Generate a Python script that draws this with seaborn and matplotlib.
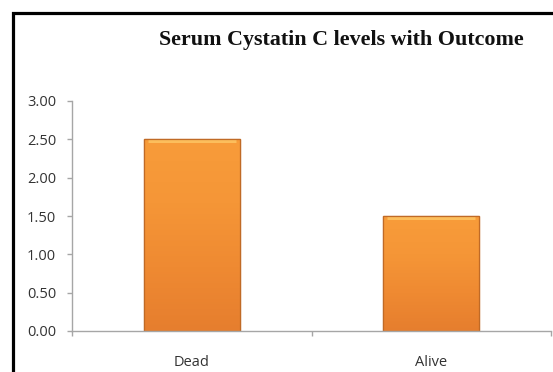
import matplotlib
matplotlib.use("Agg")
import matplotlib.pyplot as plt
import numpy as np
import pandas as pd
import seaborn as sns
from matplotlib.patches import Rectangle
from matplotlib.colors import LinearSegmentedColormap

# Mean serum cystatin C by outcome
outcomes = ["Dead", "Alive"]
cystatin_c = [2.50, 1.50]
y_ticks = [0.0, 0.5, 1.0, 1.5, 2.0, 2.5, 3.0]

df = pd.DataFrame({"Outcome": outcomes, "Cystatin C": cystatin_c})

sns.set_theme(style="white")
plt.rcParams["font.family"] = ["Open Sans", "DejaVu Sans"]

fig = plt.figure(figsize=(5.53, 3.72), dpi=100)
ax = fig.add_axes([72 / 553, 1 - 331 / 372, (551 - 72) / 553, (331 - 101) / 372])

sns.barplot(data=df, x="Outcome", y="Cystatin C", ax=ax, width=0.40,
            color="#F39436", edgecolor="#C06A26", linewidth=0.9, saturation=1)

# Vertical shading on each bar: deeper orange at the base, lighter near the top
grad = LinearSegmentedColormap.from_list(
    "bar_shade", ["#E67E2E", "#EF8A32", "#F59637", "#F89C3A"])
for patch in ax.patches:
    x0, y0 = patch.get_x(), patch.get_y()
    w, h = patch.get_width(), patch.get_height()
    z = patch.get_zorder()
    img = ax.imshow(np.linspace(1, 0, 256).reshape(-1, 1),
                    cmap=grad, aspect="auto", origin="upper",
                    extent=[x0, x0 + w, y0, y0 + h], zorder=z + 0.1)
    img.set_clip_path(patch)
    # bevel: light band along the top edge
    ax.plot([x0 + w * 0.04, x0 + w * 0.96], [y0 + h - 0.025, y0 + h - 0.025],
            color="#FCBE5C", lw=2.2, zorder=z + 0.2, solid_capstyle="butt")
    # re-draw the outline above the shading
    ax.add_patch(Rectangle((x0, y0), w, h, fill=False, edgecolor="#C06A26",
                           linewidth=0.9, zorder=z + 0.3))

ax.set_xlim(-0.5, 1.5)
ax.set_ylim(0, 3.0)
ax.set_yticks(y_ticks)
ax.set_yticklabels([f"{v:.2f}" for v in y_ticks])
ax.set_xticks([0, 1])
ax.set_xticks([-0.5, 0.5, 1.5], minor=True)
ax.set_xlabel("")
ax.set_ylabel("")

spine_col = "#A6A6A6"
for side in ["top", "right"]:
    ax.spines[side].set_visible(False)
for side in ["left", "bottom"]:
    ax.spines[side].set_color(spine_col)
    ax.spines[side].set_linewidth(1.0)

ax.tick_params(axis="y", which="major", direction="out", length=3.5, width=1.0,
               color=spine_col, pad=8, labelsize=10.5, labelcolor="#333333", left=True)
ax.tick_params(axis="x", which="major", length=0, pad=17, labelsize=10.5,
               labelcolor="#333333", bottom=True)
ax.tick_params(axis="x", which="minor", direction="out", length=3.5, width=1.0,
               color=spine_col, bottom=True)
ax.grid(False)

fig.text(0.617, 1 - 40 / 372, "Serum Cystatin C levels with Outcome",
         ha="center", va="center", fontsize=15.8, fontweight="bold",
         family=["Liberation Serif", "DejaVu Serif"], color="#111111")

# Outer chart frame, running off the right and bottom edges
fig.patches.append(Rectangle((12.5 / 553, -1.0), 2.0, 2.0 - 12.5 / 372,
                             transform=fig.transFigure, fill=False,
                             edgecolor="black", linewidth=2.3, zorder=10))

fig.savefig("out.png", dpi=100)
